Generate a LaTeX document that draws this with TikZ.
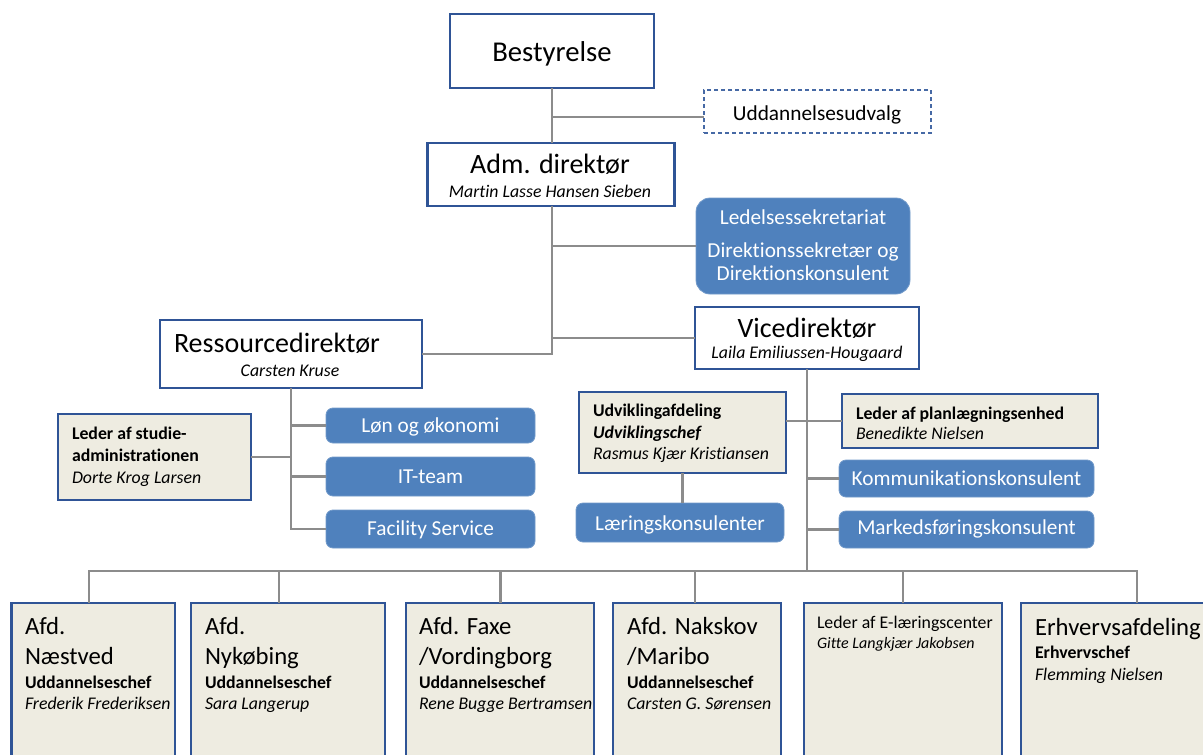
\documentclass[tikz,border=0pt]{standalone}
\usepackage{fontspec}
\setmainfont{Carlito}[Ligatures=NoCommon]
\definecolor{bord}{RGB}{47,84,150}
\definecolor{dashb}{RGB}{70,105,165}
\definecolor{bfill}{RGB}{79,129,189}
\definecolor{beige}{RGB}{238,236,225}
\definecolor{conn}{RGB}{140,140,140}
\tikzset{
  wbox/.style={draw=bord, fill=white, line width=2.4pt, inner sep=0pt, outer sep=0pt},
  gbox/.style={draw=bord, fill=beige, line width=2.4pt, inner sep=0pt, outer sep=0pt},
  bbox/.style={draw=bfill!80!white, fill=bfill, line width=0.8pt, rounded corners=7pt, inner sep=0pt, outer sep=0pt},
  dbox/.style={draw=dashb, fill=white, line width=1.4pt, dash pattern=on 4pt off 3pt, inner sep=0pt, outer sep=0pt},
  conn/.style={draw=conn, line width=2.6pt},
  txt/.style={inner sep=0pt, outer sep=0pt, anchor=base},
  txtl/.style={inner sep=0pt, outer sep=0pt, anchor=base west},
  big/.style={font=\fontsize{28}{32}\selectfont},
  mid/.style={font=\fontsize{24.7}{28}\selectfont},
  blu/.style={font=\fontsize{21.3}{24}\selectfont, text=white},
  nam/.style={font=\fontsize{17.8}{21}\selectfont\itshape},
  bld/.style={font=\fontsize{17.8}{21}\selectfont\bfseries},
  reg/.style={font=\fontsize{17.8}{21}\selectfont},
}
\begin{document}
\begin{tikzpicture}[x=1pt,y=-1pt]
\clip (0,0) rectangle (1203,755);
\fill[white] (0,0) rectangle (1203,755);

% ---- boxes
\node[wbox, minimum width=204pt, minimum height=74pt] (best) at (552,51) {};
\node[dbox, minimum width=227pt, minimum height=43pt] (udv) at (817.5,111.5) {};
\node[wbox, minimum width=247pt, minimum height=63pt] (adm) at (551,174.5) {};
\node[bbox, rounded corners=14pt, minimum width=214pt, minimum height=96pt] (led) at (803,246) {};
\node[wbox, minimum width=224pt, minimum height=62pt] (vice) at (807,338) {};
\node[wbox, minimum width=262pt, minimum height=68pt] (res) at (291,354) {};
\node[gbox, minimum width=193pt, minimum height=86pt] (stud) at (154.5,457) {};
\node[bbox, minimum width=209pt, minimum height=35pt] (lon) at (430.5,425.5) {};
\node[bbox, minimum width=209pt, minimum height=39pt] (it) at (430.5,476.5) {};
\node[bbox, minimum width=209pt, minimum height=38pt] (fac) at (430.5,529) {};
\node[gbox, minimum width=207pt, minimum height=81pt] (udvk) at (682.5,432.5) {};
\node[bbox, minimum width=208pt, minimum height=39pt] (laer) at (680,522.5) {};
\node[gbox, minimum width=256pt, minimum height=54pt] (plan) at (970,421) {};
\node[bbox, minimum width=255pt, minimum height=37pt] (kom) at (966.5,478.5) {};
\node[bbox, minimum width=255pt, minimum height=37pt] (mark) at (966.5,529.5) {};

\node[gbox, minimum width=163.5pt, minimum height=177pt] (b1) at (93.25,691.5) {};
\node[gbox, minimum width=194pt, minimum height=177pt] (b2) at (288,691.5) {};
\node[gbox, minimum width=188pt, minimum height=177pt] (b3) at (500,691.5) {};
\node[gbox, minimum width=168pt, minimum height=177pt] (b4) at (697,691.5) {};
\node[gbox, minimum width=198pt, minimum height=177pt] (b5) at (903,691.5) {};
\node[gbox, minimum width=239pt, minimum height=177pt] (b6) at (1140.5,691.5) {};

% ---- connectors
\coordinate (j1) at (552,117);
\coordinate (bus) at (807,571);
\coordinate (d1) at (89,571);
\coordinate (d2) at (279,571);
\coordinate (d3) at (500.5,571);
\coordinate (d4) at (695,571);
\coordinate (d5) at (903,571);
\coordinate (d6) at (1137,571);

\draw[conn] (best.south) -- (best.south |- adm.north);
\draw[conn] (j1) -- (j1 -| udv.west);
\draw[conn] (best.south |- adm.south) -- (best.south |- res.east) -- (res.east);
\draw[conn] (best.south |- led.west) -- (led.west);
\draw[conn] (best.south |- vice.west) -- (vice.west);
\draw[conn] (res.south) -- (res.south |- fac.west) -- (fac.west);
\draw[conn] (res.south |- lon.west) -- (lon.west);
\draw[conn] (res.south |- it.west) -- (it.west);
\draw[conn] (stud.east) -- (stud.east -| res.south);
\draw[conn] (vice.south) -- (bus);
\draw[conn] (udvk.east |- plan.west) -- (plan.west);
\draw[conn] (vice.south |- kom.west) -- (kom.west);
\draw[conn] (vice.south |- mark.west) -- (mark.west);
\draw[conn] (udvk.south) -- (udvk.south |- laer.north);
\draw[conn] (d1 |- b1.north) -- (d1) -- (d6) -- (d6 |- b6.north);
\draw[conn] (d2) -- (d2 |- b2.north);
\draw[conn] (d3) -- (d3 |- b3.north);
\draw[conn] (d4) -- (d4 |- b4.north);
\draw[conn] (d5) -- (d5 |- b5.north);

% ---- texts
\node[txt, font=\fontsize{28.7}{32}\selectfont] (tbest) at (552,61.5) {Bestyrelse};
\node[txt, font=\fontsize{21.3}{24}\selectfont] (tudv) at (817,120) {Uddannelsesudvalg};
\node[txt, big] (tadm) at (550,173) {Adm. direktør};
\node[txt, nam] (nadm) at (550,197) {Martin Lasse Hansen Sieben};
\node[txt, blu] (tled1) at (803,224) {Ledelsessekretariat};
\node[txt, blu] (tled2) at (803,257) {Direktionssekretær og};
\node[txt, blu] (tled3) at (803,280) {Direktionskonsulent};
\node[txt, big] (tvice) at (807,337) {Vicedirektør};
\node[txt, nam] (nvice) at (807,358) {Laila Emiliussen-Hougaard};
\node[txtl, big] (tres) at (174,352) {Ressourcedirektør};
\node[txt, nam] (nres) at (290,376) {Carsten Kruse};
\node[txtl, bld] (tstud1) at (72,439) {Leder af studie-};
\node[txtl, bld] (tstud2) at (72,461) {administrationen};
\node[txtl, nam] (nstud) at (72,483) {Dorte Krog Larsen};
\node[txt, blu] (tlon) at (430.5,432) {Løn og økonomi};
\node[txt, blu] (tit) at (430.5,483) {IT-team};
\node[txt, blu] (tfac) at (430.5,535) {Facility Service};
\node[txtl, bld] (tudvk1) at (593,416) {Udviklingafdeling};
\node[txtl, font=\fontsize{17.8}{21}\selectfont\bfseries\itshape] (tudvk2) at (593,438) {Udviklingschef};
\node[txtl, nam] (nudvk) at (593,459) {Rasmus Kjær Kristiansen};
\node[txt, blu] (tlaer) at (680,530) {Læringskonsulenter};
\node[txtl, bld] (tplan) at (856,419) {Leder af planlægningsenhed};
\node[txtl, nam] (nplan) at (856,439) {Benedikte Nielsen};
\node[txt, blu] (tkom) at (966.5,485) {Kommunikationskonsulent};
\node[txt, blu] (tmark) at (966.5,534) {Markedsføringskonsulent};

\node[txtl, mid] (tb1a) at (25,634) {Afd.};
\node[txtl, mid] (tb1b) at (25,664) {Næstved};
\node[txtl, bld] (tb1c) at (25,688) {Uddannelseschef};
\node[txtl, nam] (nb1) at (25,709) {Frederik Frederiksen};

\node[txtl, mid] (tb2a) at (205,634) {Afd.};
\node[txtl, mid] (tb2b) at (205,664) {Nykøbing};
\node[txtl, bld] (tb2c) at (205,688) {Uddannelseschef};
\node[txtl, nam] (nb2) at (205,709) {Sara Langerup};

\node[txtl, mid] (tb3a) at (419,634) {Afd. Faxe};
\node[txtl, mid] (tb3b) at (419,664) {/Vordingborg};
\node[txtl, bld] (tb3c) at (419,688) {Uddannelseschef};
\node[txtl, nam] (nb3) at (419,709) {Rene Bugge Bertramsen};

\node[txtl, mid] (tb4a) at (627,634) {Afd. Nakskov};
\node[txtl, mid] (tb4b) at (627,664) {/Maribo};
\node[txtl, bld] (tb4c) at (627,688) {Uddannelseschef};
\node[txtl, nam] (nb4) at (627,709) {Carsten G. Sørensen};

\node[txtl, reg] (tb5a) at (817,628) {Leder af E-læringscenter};
\node[txtl, font=\fontsize{16}{19}\selectfont\itshape] (nb5) at (817,648) {Gitte Langkjær Jakobsen};

\node[txtl, mid] (tb6a) at (1035,635) {Erhvervsafdeling};
\node[txtl, bld] (tb6b) at (1035,658) {Erhvervschef};
\node[txtl, nam] (nb6) at (1035,680) {Flemming Nielsen};
\end{tikzpicture}
\end{document}
